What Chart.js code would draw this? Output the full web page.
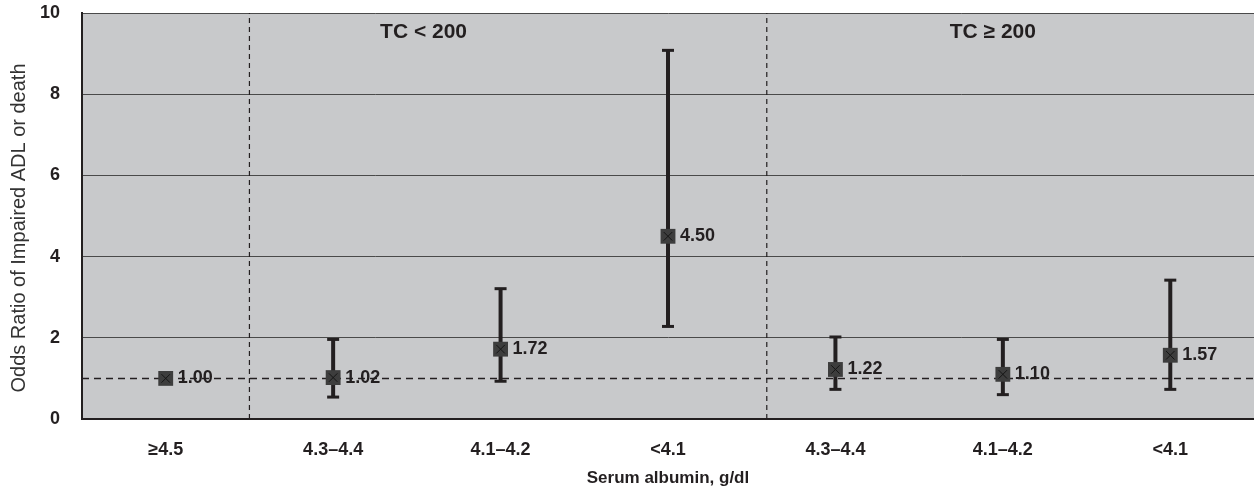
<!DOCTYPE html>
<html>
<head>
<meta charset="utf-8">
<script src="https://cdn.jsdelivr.net/npm/chart.js@4/dist/chart.umd.min.js"></script>
<style>
  html, body { margin: 0; padding: 0; background: #fff; }
  #wrap { width: 1254px; height: 492px; }
</style>
</head>
<body>
<div id="wrap"><canvas id="orChart" width="1254" height="492"></canvas></div>
<script>
// data
const categories = ['\u22654.5', '4.3\u20134.4', '4.1\u20134.2', '<4.1', '4.3\u20134.4', '4.1\u20134.2', '<4.1'];
const oddsRatio = [1.00, 1.02, 1.72, 4.50, 1.22, 1.10, 1.57];
const ciLower = [null, 0.54, 0.93, 2.28, 0.73, 0.60, 0.73];
const ciUpper = [null, 1.96, 3.21, 9.08, 2.02, 1.96, 3.42];
const yTicks = [0, 2, 4, 6, 8, 10];
const refValue = 1;
const groupLabels = ['TC < 200', 'TC \u2265 200'];

// layout bits (not data)
const dividerX = [0.5, 3.59];
const groupPos = [{x: 1.54, y: 9.53}, {x: 4.94, y: 9.53}];
const FONT = "'Liberation Sans', Arial, Helvetica, sans-serif";
const INK = '#231f20';

const datasets = [];

// markers
datasets.push({
    label: 'OR',
    data: oddsRatio.map((v, i) => ({x: i, y: v})),
    showLine: false,
    pointStyle: 'rect',
    pointRadius: 10.5,
    pointBackgroundColor: '#3d3d3d',
    pointBorderColor: '#3d3d3d',
    pointBorderWidth: 0,
    order: 2
});
datasets.push({
    label: 'OR star',
    data: oddsRatio.map((v, i) => ({x: i, y: v})),
    showLine: false,
    pointStyle: 'crossRot',
    pointRadius: 6,
    pointBorderColor: '#151515',
    pointBorderWidth: 1,
    order: 1
});

// error bars
ciLower.forEach((lo, i) => {
    if (lo === null) return;
    datasets.push({
        label: 'ci' + i,
        data: [{x: i, y: lo}, {x: i, y: ciUpper[i]}],
        showLine: true,
        borderColor: INK,
        borderWidth: 4,
        pointStyle: 'line',
        pointRadius: 6,
        pointBorderColor: INK,
        pointBorderWidth: 3,
        order: 3
    });
});

// reference line
datasets.push({
    label: 'ref',
    data: [{x: -0.5, y: refValue}, {x: 6.5, y: refValue}],
    showLine: true,
    borderColor: INK,
    borderWidth: 1.5,
    borderDash: [7, 5],
    pointRadius: 0,
    order: 5
});

// group dividers
dividerX.forEach((dx, k) => {
    datasets.push({
        label: 'div' + k,
        data: [{x: dx, y: 0}, {x: dx, y: 10}],
        showLine: true,
        borderColor: INK,
        borderWidth: 1.2,
        borderDash: [5, 4],
        pointRadius: 0,
        order: 6
    });
});

const plotBg = {
    id: 'plotBg',
    beforeDraw(chart) {
        const {ctx, chartArea: a} = chart;
        ctx.save();
        ctx.fillStyle = '#c8c9cb';
        ctx.fillRect(a.left, a.top, a.right - a.left, a.bottom - a.top);
        ctx.restore();
    }
};

const texts = {
    id: 'texts',
    afterDatasetsDraw(chart) {
        const {ctx, scales: {x, y}} = chart;
        ctx.save();
        ctx.fillStyle = INK;
        ctx.textBaseline = 'middle';
        // value labels
        ctx.font = 'bold 18px ' + FONT;
        ctx.textAlign = 'left';
        oddsRatio.forEach((v, i) => {
            ctx.fillText(v.toFixed(2), x.getPixelForValue(i) + 12, y.getPixelForValue(v));
        });
        // group labels
        ctx.font = 'bold 21px ' + FONT;
        ctx.textAlign = 'center';
        groupLabels.forEach((t, k) => {
            ctx.fillText(t, x.getPixelForValue(groupPos[k].x), y.getPixelForValue(groupPos[k].y));
        });
        // y axis title
        ctx.font = '20px ' + FONT;
        ctx.fillStyle = '#333';
        ctx.translate(19, 228);
        ctx.rotate(-Math.PI / 2);
        ctx.fillText('Odds Ratio of Impaired ADL or death', 0, 0);
        ctx.restore();
    }
};

const config = {
    type: 'scatter',
    data: {datasets},
    options: {
        responsive: false,
        animation: false,
        layout: {autoPadding: false, padding: {top: 13, right: 0, left: 0, bottom: 0}},
        plugins: {legend: {display: false}, tooltip: {enabled: false}},
        scales: {
            x: {
                type: 'linear',
                min: -0.5,
                max: 6.5,
                afterBuildTicks: s => { s.ticks = categories.map((c, i) => ({value: i})); },
                afterFit: s => { s.height = 73; s.paddingLeft = 0; s.paddingRight = 0; },
                grid: {display: false, drawTicks: false},
                border: {color: INK, width: 2},
                ticks: {
                    padding: 20,
                    color: INK,
                    font: {family: FONT, size: 18, weight: 'bold'},
                    callback: v => categories[v],
                    maxRotation: 0,
                    autoSkip: false
                },
                title: {
                    display: true,
                    text: 'Serum albumin, g/dl',
                    color: INK,
                    font: {family: FONT, size: 17, weight: 'bold'},
                    padding: {top: 0, bottom: 3}
                }
            },
            y: {
                min: 0,
                max: 10,
                afterBuildTicks: s => { s.ticks = yTicks.map(v => ({value: v})); },
                afterFit: s => { s.width = 82; s.paddingTop = 0; s.paddingBottom = 0; },
                grid: {color: '#4a4a4a', lineWidth: 1, drawTicks: false},
                border: {color: INK, width: 2},
                ticks: {
                    padding: 22,
                    color: INK,
                    font: {family: FONT, size: 18, weight: 'bold'}
                }
            }
        }
    },
    plugins: [plotBg, texts]
};

const orChart = new Chart(document.getElementById('orChart'), config);
</script>
</body>
</html>
